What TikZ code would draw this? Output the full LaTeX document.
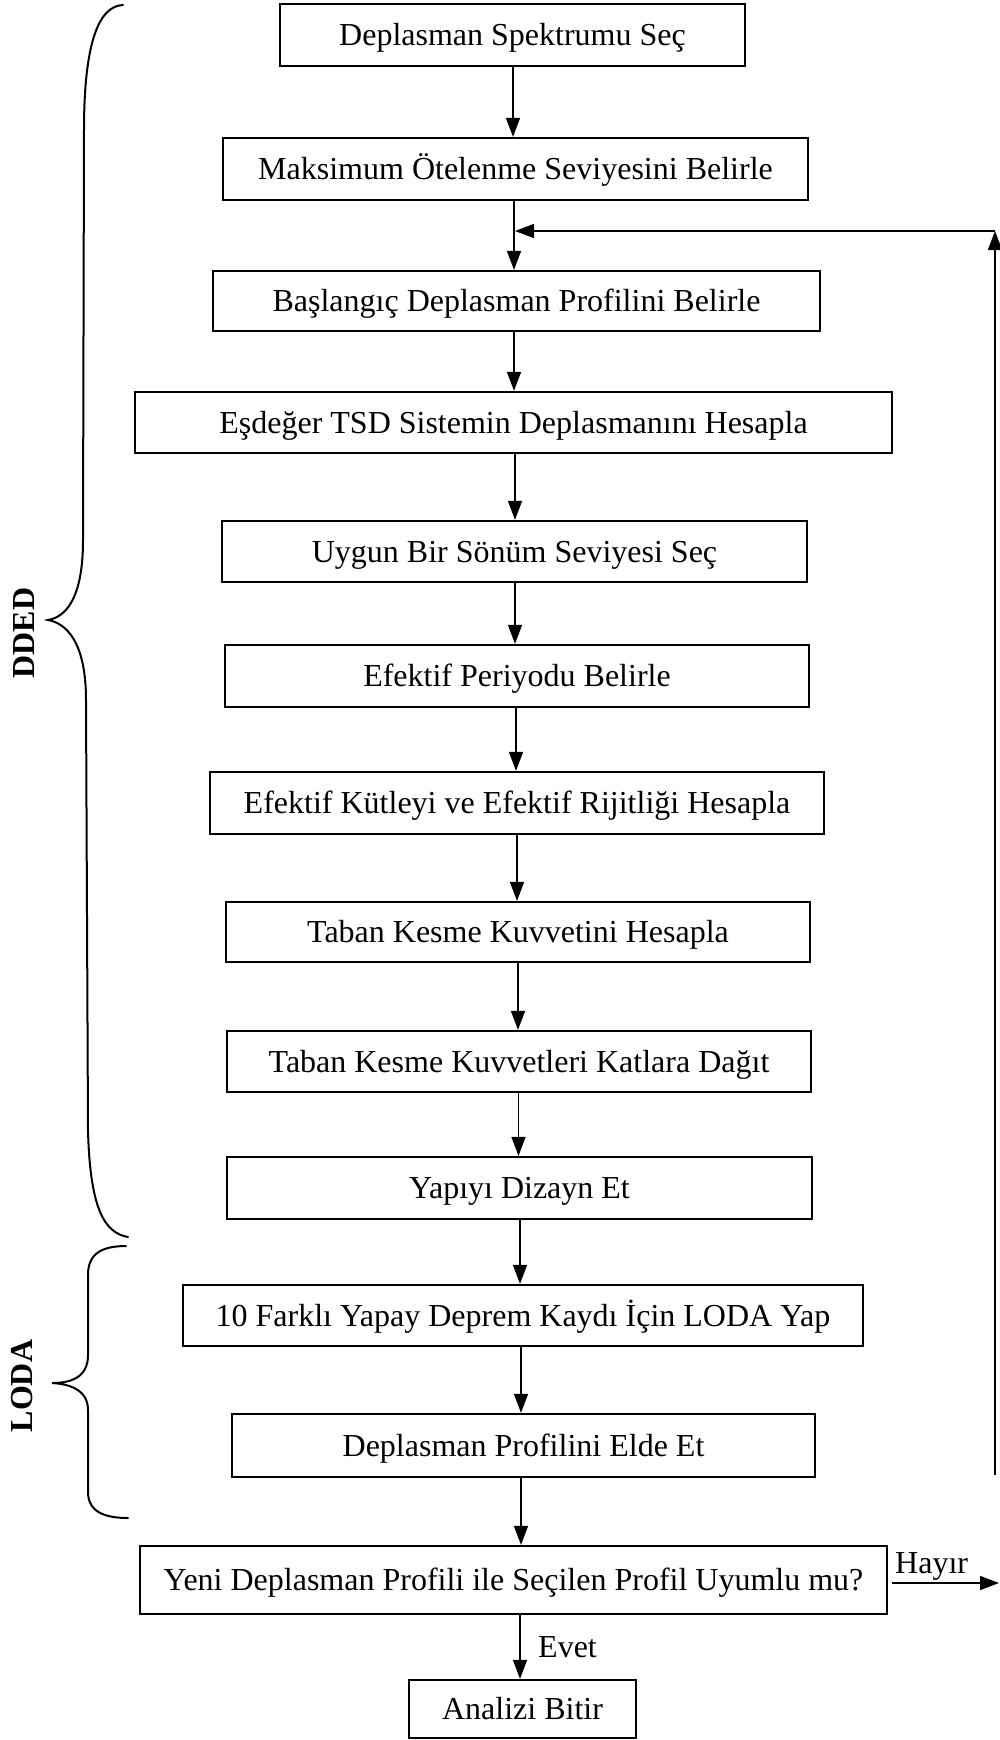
\documentclass[tikz,border=0pt]{standalone}
\usepackage{fontspec}
\setmainfont{Liberation Serif}
\usetikzlibrary{arrows.meta,calc}
\begin{document}
\begin{tikzpicture}[x=1pt,y=-1pt,
  stepbox/.style={draw, line width=2.3pt, inner sep=0pt,
    font=\fontsize{32}{38}\selectfont, text height=21pt, text depth=0pt},
  arr/.style={line width=1.6pt, -{Triangle[length=19pt,width=14pt]}},
  brace/.style={line width=2pt, line cap=round},
  side/.style={font=\fontsize{32}{38}\selectfont\bfseries, rotate=90},
  lbl/.style={font=\fontsize{32}{38}\selectfont, inner sep=0pt}]
\useasboundingbox (0,0) rectangle (999,1740);

% process boxes
\node[stepbox, minimum width=465pt, minimum height=62pt] (b1) at (512.5,35) {Deplasman Spektrumu Seç};
\node[stepbox, minimum width=585pt, minimum height=62pt] (b2) at (515.5,169) {Maksimum Ötelenme Seviyesini Belirle};
\node[stepbox, minimum width=607pt, minimum height=60pt] (b3) at (516.5,301) {Başlangıç Deplasman Profilini Belirle};
\node[stepbox, minimum width=757pt, minimum height=61pt] (b4) at (513.5,422.5) {Eşdeğer TSD Sistemin Deplasmanını Hesapla};
\node[stepbox, minimum width=585pt, minimum height=61pt] (b5) at (514.5,551.5) {Uygun Bir Sönüm Seviyesi Seç};
\node[stepbox, minimum width=584pt, minimum height=62pt] (b6) at (517,676) {Efektif Periyodu Belirle};
\node[stepbox, minimum width=614pt, minimum height=62pt] (b7) at (517,803) {Efektif Kütleyi ve Efektif Rijitliği Hesapla};
\node[stepbox, minimum width=584pt, minimum height=60pt] (b8) at (518,932) {Taban Kesme Kuvvetini Hesapla};
\node[stepbox, minimum width=584pt, minimum height=61pt] (b9) at (519,1061.5) {Taban Kesme Kuvvetleri Katlara Dağıt};
\node[stepbox, minimum width=585pt, minimum height=62pt] (b10) at (519.5,1188) {Yapıyı Dizayn Et};
\node[stepbox, minimum width=680pt, minimum height=61pt] (b11) at (523,1315.5) {10 Farklı Yapay Deprem Kaydı İçin LODA Yap};
\node[stepbox, minimum width=583pt, minimum height=63pt] (b12) at (523.5,1445.5) {Deplasman Profilini Elde Et};
\node[stepbox, minimum width=747pt, minimum height=68pt] (dec) at (513.5,1580) {Yeni Deplasman Profili ile Seçilen Profil Uyumlu mu?};
\node[stepbox, minimum width=227pt, minimum height=58pt] (b14) at (522.5,1709) {Analizi Bitir};

% columns of the downward connectors
\coordinate (c1) at (513,0);
\coordinate (c2) at (514,0);
\coordinate (c3) at (514,0);
\coordinate (c4) at (515,0);
\coordinate (c5) at (515,0);
\coordinate (c6) at (516,0);
\coordinate (c7) at (517,0);
\coordinate (c8) at (518,0);
\coordinate (c9) at (518.5,0);
\coordinate (c10) at (520,0);
\coordinate (c11) at (521,0);
\coordinate (c12) at (521,0);
\coordinate (c13) at (520,0);

\draw[arr] (b1.south -| c1) -- (b2.north -| c1);
\draw[arr] (b2.south -| c2) -- (b3.north -| c2);
\draw[arr] (b3.south -| c3) -- (b4.north -| c3);
\draw[arr] (b4.south -| c4) -- (b5.north -| c4);
\draw[arr] (b5.south -| c5) -- (b6.north -| c5);
\draw[arr] (b6.south -| c6) -- (b7.north -| c6);
\draw[arr] (b7.south -| c7) -- (b8.north -| c7);
\draw[arr] (b8.south -| c8) -- (b9.north -| c8);
\draw[arr] (b9.south -| c9) -- (b10.north -| c9);
\draw[arr] (b10.south -| c10) -- (b11.north -| c10);
\draw[arr] (b11.south -| c11) -- (b12.north -| c11);
\draw[arr] (b12.south -| c12) -- (dec.north -| c12);
\draw[arr] (dec.south -| c13) -- (b14.north -| c13);

% decision outcomes
\node[lbl, anchor=base west] (evet) at (538,1657) {Evet};
\coordinate (hayEnd) at (999,1583);
\draw[arr] ([xshift=4pt]dec.east |- hayEnd) -- (hayEnd);
\node[lbl, anchor=base west] (hayir) at (895,1573) {Hayır};

% return loop
\coordinate (retBot) at (995,1475);
\coordinate (retTop) at (995,231);
\coordinate (join) at (514,231);
\draw[arr] (retBot) -- (retTop);
\draw[arr] (retTop) -- ([xshift=1pt]join);

% braces with their labels
\draw[brace] (123,5) .. controls (98,6) and (84,45) .. (84,130)
  -- (83,540) .. controls (83,600) and (65,617) .. (48,620)
  .. controls (65,623) and (86,640) .. (86,700)
  -- (88,1130) .. controls (90,1210) and (105,1233) .. (128,1237);
\node[side] (dded) at (24,633) {DDED};

\draw[brace] (126,1246) .. controls (100,1246) and (88,1255) .. (88,1275)
  -- (88,1355) .. controls (88,1378) and (70,1383) .. (52,1383)
  .. controls (70,1384) and (88,1390) .. (88,1410)
  -- (88,1492) .. controls (88,1512) and (105,1518) .. (128,1518);
\node[side] (loda) at (22,1386) {LODA};
\end{tikzpicture}
\end{document}
